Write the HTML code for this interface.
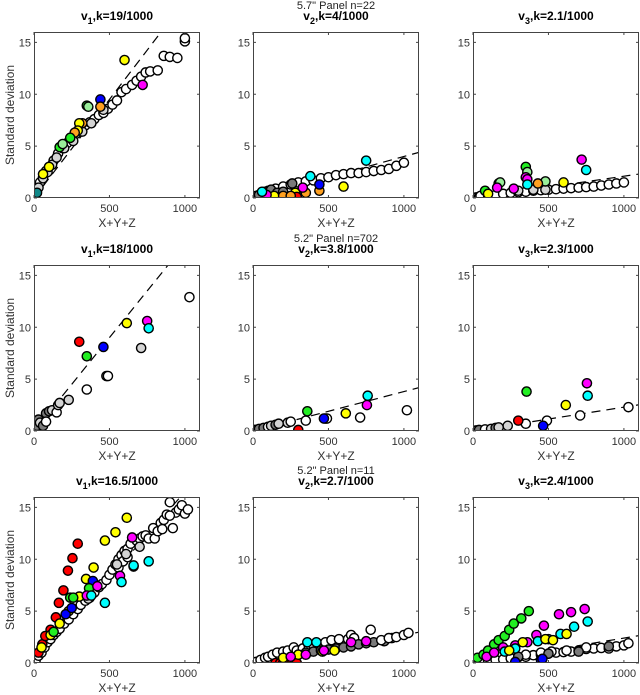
<!DOCTYPE html>
<html><head><meta charset="utf-8"><style>
html,body{margin:0;padding:0;background:#fff;}
svg{display:block;font-family:"Liberation Sans",Arial,sans-serif;}
</style></head><body>
<svg id="chart" width="640" height="695" viewBox="0 0 640 695"></svg>
<script>
// ---- data ----
const titlesK = ["19","4","2.1","18","3.8","2.3","16.5","2.7","2.4"];
const kValues = [19,4,2.1,18,3.8,2.3,16.5,2.7,2.4];
const subtitles = ["5.7\" Panel n=22","5.2\" Panel n=702","5.2\" Panel n=11"];
const xTicks = [0,500,1000];
const yTicks = [0,5,10,15];
// points per panel: [x, y, colorCode]
const p1 = [[0,0,"d"],[20,0.8,"w"],[40,1.5,"w"],[60,2,"w"],[80,2.6,"w"],[100,3,"w"],[130,3.6,"w"],[160,4.3,"w"],[190,4.8,"w"],[220,5.3,"w"],[250,5.7,"w"],[280,6.2,"w"],[310,6.6,"w"],[340,7,"w"],[370,7.3,"w"],[400,7.6,"w"],[430,8,"w"],[460,8.2,"w"],[490,8.6,"w"],[520,9,"w"],[550,9.4,"w"],[580,10.2,"w"],[610,10.5,"w"],[650,10.9,"w"],[680,11.3,"w"],[710,11.7,"w"],[740,12.1,"w"],[770,12.2,"w"],[820,12.3,"w"],[860,13.7,"w"],[900,13.6,"w"],[950,13.5,"w"],[1000,15.1,"w"],[1000,15.4,"w"],[30,1,"g"],[60,1.9,"g"],[90,2.5,"g"],[120,3.2,"g"],[150,3.9,"g"],[200,4.8,"g"],[260,5.5,"g"],[320,6.4,"g"],[380,7.2,"g"],[460,8.5,"g"],[600,13.3,"y"],[440,9.5,"b"],[440,8.8,"o"],[350,8.9,"G"],[360,8.8,"l"],[320,7.2,"o"],[300,7.2,"y"],[290,6.5,"y"],[270,6.3,"o"],[240,5.8,"G"],[170,4.9,"G"],[190,5.2,"l"],[720,10.9,"m"],[60,2.3,"y"],[100,3,"y"],[20,0.5,"t"]];
const p2 = [[50,0.4,"w"],[100,0.7,"w"],[150,0.9,"w"],[200,1.1,"w"],[250,1.3,"w"],[300,1.5,"w"],[350,1.6,"w"],[400,1.7,"w"],[450,1.9,"w"],[500,2.0,"w"],[550,2.2,"w"],[600,2.3,"w"],[650,2.4,"w"],[700,2.4,"w"],[750,2.5,"w"],[800,2.6,"w"],[850,2.7,"w"],[900,2.8,"w"],[950,3.1,"w"],[1000,3.4,"w"],[0,0,"d"],[20,0.2,"d"],[40,0.3,"d"],[80,0.6,"g"],[120,0.8,"d"],[160,0.5,"d"],[200,0.6,"d"],[260,1.4,"d"],[750,3.6,"c"],[380,2.1,"c"],[600,1.1,"y"],[440,0.7,"o"],[440,1.3,"b"],[280,0.5,"y"],[290,0.1,"r"],[350,0.5,"o"],[140,0.2,"y"],[200,0.2,"o"],[250,0.2,"o"],[90,0.3,"m"],[330,1.0,"m"],[60,0.6,"c"]];
const p3 = [[20,0.05,"d"],[40,0.1,"d"],[50,0.2,"w"],[100,0.25,"w"],[150,0.3,"w"],[200,0.4,"w"],[250,0.5,"w"],[300,0.55,"w"],[350,0.6,"w"],[400,0.7,"w"],[450,0.75,"w"],[500,0.8,"w"],[550,0.85,"w"],[600,0.9,"w"],[650,0.95,"w"],[700,1.0,"w"],[750,1.05,"w"],[800,1.1,"w"],[850,1.2,"w"],[900,1.3,"w"],[950,1.4,"w"],[1000,1.5,"w"],[300,0.7,"g"],[400,0.8,"g"],[480,0.8,"g"],[350,3.0,"G"],[360,2.5,"l"],[350,2.0,"m"],[360,1.8,"m"],[360,1.3,"c"],[480,1.6,"l"],[430,1.4,"o"],[600,1.5,"y"],[720,3.7,"m"],[750,2.7,"c"],[170,1.4,"G"],[180,1.5,"l"],[160,1.0,"m"],[80,0.7,"G"],[270,0.9,"m"],[100,0.4,"y"]];
const p4 = [[0,0,"d"],[10,0.2,"d"],[20,0.5,"d"],[30,1.1,"d"],[40,0.8,"g"],[60,0.5,"d"],[80,1.7,"d"],[80,0.9,"w"],[100,1.9,"d"],[120,2.0,"g"],[150,1.8,"w"],[160,2.5,"g"],[170,2.7,"g"],[230,3.0,"g"],[350,4.0,"w"],[480,5.3,"w"],[490,5.3,"w"],[710,8.0,"g"],[1030,12.9,"w"],[300,8.6,"r"],[350,7.2,"G"],[460,8.1,"b"],[615,10.4,"y"],[750,10.6,"m"],[760,9.9,"c"]];
const p5 = [[0,0,"d"],[10,0.1,"d"],[20,0.1,"d"],[40,0.2,"d"],[70,0.3,"d"],[100,0.4,"w"],[120,0.5,"g"],[150,0.6,"d"],[170,0.7,"g"],[230,0.8,"g"],[250,0.9,"w"],[350,1.0,"w"],[480,1.2,"w"],[490,1.2,"w"],[710,1.3,"w"],[1020,2.0,"w"],[300,0.1,"r"],[360,1.9,"G"],[470,1.2,"b"],[615,1.7,"y"],[755,2.5,"m"],[760,3.4,"c"]];
const p6 = [[0,0,"d"],[20,0.05,"d"],[40,0.1,"d"],[80,0.15,"w"],[120,0.2,"g"],[150,0.3,"d"],[170,0.35,"g"],[230,0.5,"g"],[350,0.7,"w"],[490,1.0,"w"],[710,1.5,"w"],[1030,2.3,"w"],[300,1.0,"r"],[355,3.8,"G"],[465,0.5,"b"],[615,2.5,"y"],[755,4.6,"m"],[760,3.4,"c"]];
const p7 = [[10,0.2,"w"],[30,0.7,"w"],[50,1,"w"],[70,1.5,"w"],[90,2,"w"],[110,2.3,"w"],[130,2.7,"w"],[150,3,"w"],[170,3.3,"w"],[200,3.8,"w"],[230,4.2,"w"],[260,4.7,"w"],[290,5.2,"w"],[310,5.6,"w"],[340,6,"w"],[370,6.3,"w"],[400,6.8,"w"],[430,7.3,"w"],[450,7.6,"w"],[480,8,"w"],[500,8.5,"w"],[520,9,"w"],[540,9.5,"w"],[560,10,"w"],[580,10.4,"w"],[600,10.8,"w"],[620,11,"w"],[640,11.5,"w"],[660,9.3,"w"],[680,11.8,"w"],[700,12,"w"],[720,12.2,"w"],[740,12.3,"w"],[760,12,"w"],[790,13,"w"],[800,12,"w"],[820,12.7,"w"],[840,13.5,"w"],[860,13.8,"w"],[880,14.3,"w"],[900,15.5,"w"],[920,13,"w"],[940,14.5,"w"],[960,14.8,"w"],[980,15.2,"w"],[1000,14.4,"w"],[1020,14.8,"w"],[900,14.2,"w"],[850,12.9,"w"],[560,9.2,"w"],[590,9.8,"w"],[620,10.2,"w"],[550,9.5,"g"],[610,10.5,"g"],[700,11.2,"g"],[360,6.2,"g"],[30,1,"r"],[55,1.8,"r"],[75,2.6,"r"],[110,3.2,"r"],[145,4.4,"r"],[165,5.8,"r"],[195,7,"r"],[225,8.9,"r"],[255,10.1,"r"],[290,11.5,"r"],[50,1.5,"y"],[110,2.7,"y"],[170,3.8,"y"],[230,5,"y"],[300,6.4,"y"],[345,8.1,"y"],[395,9.2,"y"],[470,11.8,"y"],[540,12.6,"y"],[615,14,"y"],[210,4.7,"b"],[250,5.3,"b"],[390,7.9,"b"],[130,3.0,"G"],[240,6.3,"G"],[365,7.2,"G"],[260,6.3,"G"],[350,6.5,"m"],[420,7.4,"m"],[570,8.4,"m"],[650,12.1,"m"],[380,6.5,"c"],[470,5.8,"c"],[580,7.8,"c"],[760,9.8,"c"],[660,9.4,"c"]];
const p8 = [[0,0,"d"],[20,0.1,"w"],[50,0.3,"w"],[80,0.5,"w"],[100,0.6,"w"],[130,0.8,"w"],[160,1.0,"w"],[200,1.1,"w"],[230,1.2,"w"],[270,1.5,"w"],[290,1.2,"w"],[330,1.4,"w"],[370,1.5,"w"],[400,1.7,"w"],[440,1.8,"w"],[480,2.0,"w"],[520,2.2,"w"],[570,2.3,"w"],[630,2.3,"w"],[650,2.7,"w"],[670,2.4,"w"],[780,3.2,"w"],[300,0.8,"d"],[350,1.0,"d"],[400,1.1,"d"],[450,1.2,"d"],[500,1.3,"d"],[550,1.4,"d"],[600,1.5,"d"],[650,1.6,"d"],[700,1.8,"d"],[750,1.9,"d"],[800,2.0,"d"],[870,2.1,"d"],[920,2.4,"d"],[850,2.2,"w"],[900,2.4,"w"],[950,2.5,"w"],[1000,2.7,"w"],[1030,2.9,"w"],[150,0,"r"],[180,0,"r"],[200,0,"r"],[240,0,"r"],[260,0,"r"],[290,0,"r"],[200,0.5,"y"],[300,0.8,"y"],[460,1.1,"y"],[540,1.2,"y"],[250,0.6,"m"],[350,0.8,"m"],[470,1.2,"m"],[650,2.0,"m"],[750,2.1,"m"],[360,2.0,"c"],[420,2.0,"c"]];
const p9 = [[0,0,"d"],[20,0.05,"w"],[50,0.1,"w"],[100,0.2,"w"],[150,0.3,"w"],[200,0.35,"w"],[250,0.45,"w"],[300,0.55,"w"],[350,0.6,"w"],[400,0.75,"w"],[450,0.8,"w"],[500,0.9,"w"],[550,1.0,"w"],[600,1.05,"w"],[650,1.1,"w"],[700,1.2,"w"],[750,1.35,"w"],[800,1.4,"w"],[850,1.45,"w"],[900,1.4,"w"],[950,1.6,"w"],[1000,1.7,"w"],[1030,1.9,"w"],[750,1.5,"w"],[620,1.2,"w"],[520,1.1,"w"],[450,1.0,"w"],[350,0.8,"w"],[300,0.6,"d"],[500,0.9,"d"],[700,1.1,"d"],[900,1.6,"d"],[30,0.5,"G"],[70,0.8,"G"],[100,1.2,"G"],[140,1.8,"G"],[170,2.2,"G"],[210,2.6,"G"],[240,3.2,"G"],[270,3.8,"G"],[320,4.3,"G"],[370,5.0,"G"],[90,0.6,"m"],[140,1.0,"m"],[200,1.5,"m"],[280,1.7,"m"],[360,2.0,"m"],[420,2.7,"m"],[470,3.6,"m"],[570,4.7,"m"],[650,4.9,"m"],[740,5.2,"m"],[210,1.1,"c"],[280,1.4,"c"],[430,2.1,"c"],[500,2.3,"c"],[580,2.8,"c"],[670,3.5,"c"],[760,4.0,"c"],[240,1.2,"y"],[330,2.0,"y"],[480,2.3,"y"],[530,2.2,"y"],[620,2.8,"y"],[280,0.1,"b"],[450,0.3,"b"],[460,0.4,"b"]];
const panels = [p1,p2,p3,p4,p5,p6,p7,p8,p9];

// ---- layout ----
const NS = "http://www.w3.org/2000/svg";
const svg = document.getElementById("chart");
const colLeft = [34,253,473], rowTop = [32,265,497], W = 166, H = 166;
const XMAX = 1100, YMAX = 16;
const palette = {w:"#ffffff",g:"#d4d4d4",d:"#7a7a7a",r:"#ff0000",G:"#22ee22",b:"#0000ff",y:"#ffff00",m:"#ff00ff",c:"#00ffff",o:"#ffa020",l:"#99ee99",t:"#118888"};
function mk(tag, attrs, parent){
  const e = document.createElementNS(NS, tag);
  for (const k in attrs) e.setAttribute(k, attrs[k]);
  (parent||svg).appendChild(e);
  return e;
}
panels.forEach((pts, i) => {
  const r = Math.floor(i/3), c = i%3;
  const L = colLeft[c], T = rowTop[r];
  const sx = v => L + v / XMAX * W;
  const sy = v => T + H - v / YMAX * H;
  const g = mk("g", {});
  
  
  const clipId = "clip" + i;
  const cp = mk("clipPath", {id: clipId}, g);
  mk("rect", {x:L, y:T, width:W, height:H}, cp);
  const k = kValues[i] / 1000;
  const line = mk("line", {x1:sx(0), y1:sy(0), x2:sx(XMAX), y2:sy(k*XMAX), stroke:"#000", "stroke-width":1.2, "stroke-dasharray":"9,6", "clip-path":"url(#"+clipId+")"}, g);
  
  
  const pg = mk("g", {"clip-path":"url(#"+clipId+")"}, g);
  pts.forEach(p => {
    const ci = mk("circle", {cx:sx(p[0]), cy:sy(p[1]), r:4.6, fill:palette[p[2]], stroke:"#000", "stroke-width":1.4}, pg);
    
    
  });
  const box = mk("rect", {x:L+0.5, y:T+0.5, width:W-1, height:H-1, fill:"none", stroke:"#444", "stroke-width":1}, g);
  
  
  xTicks.forEach(t => {
    const x = sx(t);
    mk("line", {x1:x, y1:T+H, x2:x, y2:T+H-3, stroke:"#444"}, g);
    mk("line", {x1:x, y1:T, x2:x, y2:T+3, stroke:"#444"}, g);
    const tl = mk("text", {x:x, y:T+H+14, "text-anchor":"middle", "font-size":11, fill:"#333"}, g);
    tl.textContent = t;
    
    
  });
  yTicks.forEach(t => {
    const y = sy(t);
    mk("line", {x1:L, y1:y, x2:L+3, y2:y, stroke:"#444"}, g);
    mk("line", {x1:L+W, y1:y, x2:L+W-3, y2:y, stroke:"#444"}, g);
    const tl = mk("text", {x:L-3, y:y+4, "text-anchor":"end", "font-size":11, fill:"#333"}, g);
    tl.textContent = t;
    
    
  });
  const xl = mk("text", {x:L+W/2, y:T+H+29, "text-anchor":"middle", "font-size":12, fill:"#333"}, g);
  xl.textContent = "X+Y+Z";
  
  
  if (c === 0) {
    const yl = mk("text", {x:0, y:0, transform:"translate(14,"+(T+H/2)+") rotate(-90)", "text-anchor":"middle", "font-size":12, fill:"#333"}, g);
    yl.textContent = "Standard deviation";
    
    
  }
  const tt = mk("text", {x:L+W/2, y:T-12, "text-anchor":"middle", "font-size":12, "font-weight":"bold", fill:"#000"}, g);
  
  
  const a = mk("tspan", {}, tt); a.textContent = "v";
  const b = mk("tspan", {dy:4, "font-size":9}, tt); b.textContent = String(c+1);
  const d = mk("tspan", {dy:-4}, tt); d.textContent = ",k=" + titlesK[i] + "/1000";
  if (c === 1) {
    const st = mk("text", {x:L+W/2, y:T-23, "text-anchor":"middle", "font-size":11, fill:"#222"}, g);
    st.textContent = subtitles[r];
    
    
  }
});
</script>
</body></html>
